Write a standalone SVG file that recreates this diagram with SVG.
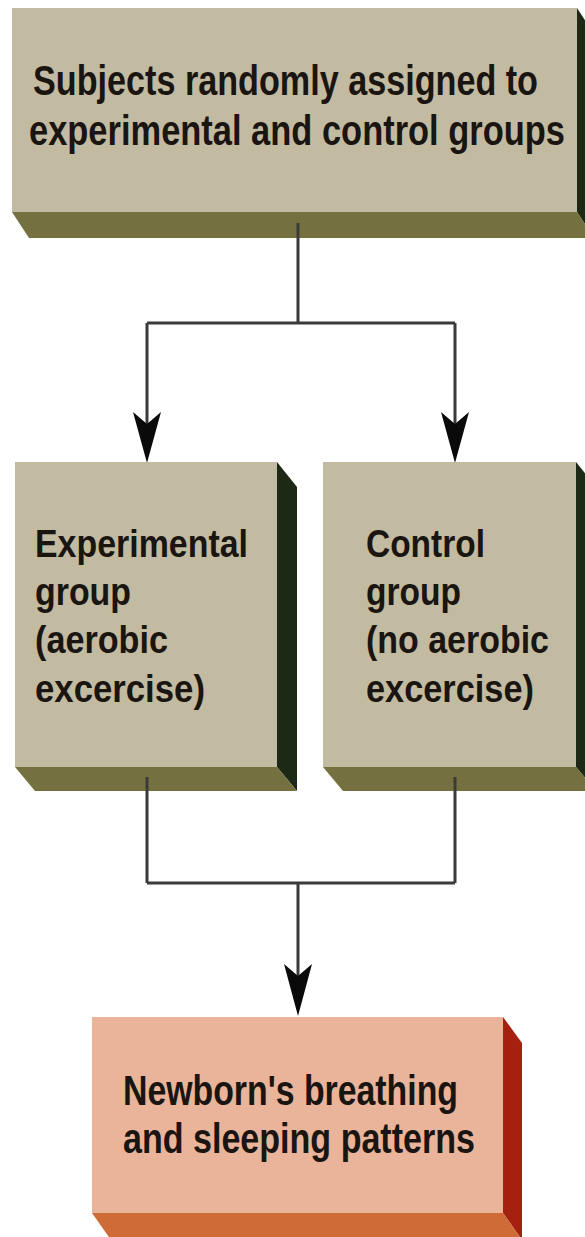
<svg xmlns="http://www.w3.org/2000/svg" width="585" height="1237" viewBox="0 0 585 1237">
<style>
.front{fill:#c2bba2}
.bottom{fill:#75703f}
.side{fill:#1d2815}
.rfront{fill:#e9b49a}
.rbottom{fill:#cf6b36}
.rside{fill:#a5210f}
.t{font-family:"Liberation Sans",Arial,sans-serif;font-weight:bold;fill:#1a1510}
.big{font-size:42px}
.top{font-size:30px}
.mid{font-size:39px}
.ln{fill:none;stroke:#3a3a3a;stroke-width:3}
.ah{fill:#0a0a0a}
</style>
<rect width="585" height="1237" fill="#ffffff"/>
<g id="connectors">
<path class="ln" d="M298,223 V323 M147,323 H455 M147,323 V426 M455,323 V426"/>
<path class="ln" d="M147,777 V883 M455,777 V883 M147,883 H455 M298,883 V978"/>
<polygon class="ah" points="147,463 133,412 147,424 161,412"/>
<polygon class="ah" points="455,463 441,412 455,424 469,412"/>
<polygon class="ah" points="298,1016 284,964 298,976 312,964"/>
</g>
<g id="node-subjects">
<polygon class="side" points="577,8 594,34 594,238 577,212"/>
<polygon class="bottom" points="12,212 577,212 594,238 29,238"/>
<rect class="front" x="12" y="8" width="565" height="204"/>
<path class="ln" d="M298,223 V238"/>
<text class="t top" transform="translate(33,95) scale(1,1.4)" x="0" y="0" textLength="505" lengthAdjust="spacingAndGlyphs">Subjects randomly assigned to</text>
<text class="t top" transform="translate(29,145) scale(1,1.4)" x="0" y="0" textLength="536" lengthAdjust="spacingAndGlyphs">experimental and control groups</text>
</g>
<g id="node-experimental">
<polygon class="side" points="277,462 297,487 297,791 277,767"/>
<polygon class="bottom" points="15,767 277,767 297,791 35,791"/>
<rect class="front" x="15" y="462" width="262" height="305"/>
<path class="ln" d="M147,777 V791"/>
<text class="t mid" x="35" y="557" textLength="213" lengthAdjust="spacingAndGlyphs">Experimental</text>
<text class="t mid" x="35" y="605" textLength="96" lengthAdjust="spacingAndGlyphs">group</text>
<text class="t mid" x="35" y="653" textLength="133" lengthAdjust="spacingAndGlyphs">(aerobic</text>
<text class="t mid" x="35" y="702" textLength="170" lengthAdjust="spacingAndGlyphs">excercise)</text>
</g>
<g id="node-control">
<polygon class="side" points="576,462 596,487 596,791 576,767"/>
<polygon class="bottom" points="323,767 576,767 596,791 343,791"/>
<rect class="front" x="323" y="462" width="253" height="305"/>
<path class="ln" d="M455,777 V791"/>
<text class="t mid" x="366" y="557" textLength="119" lengthAdjust="spacingAndGlyphs">Control</text>
<text class="t mid" x="366" y="605" textLength="95" lengthAdjust="spacingAndGlyphs">group</text>
<text class="t mid" x="366" y="653" textLength="183" lengthAdjust="spacingAndGlyphs">(no aerobic</text>
<text class="t mid" x="366" y="702" textLength="168" lengthAdjust="spacingAndGlyphs">excercise)</text>
</g>
<g id="node-newborn">
<polygon class="rside" points="503,1017 522,1043 522,1240 503,1213"/>
<polygon class="rbottom" points="92,1213 503,1213 522,1240 111,1240"/>
<rect class="rfront" x="92" y="1017" width="411" height="196"/>
<text class="t big" x="123" y="1105" textLength="335" lengthAdjust="spacingAndGlyphs">Newborn's breathing</text>
<text class="t big" x="123" y="1153" textLength="352" lengthAdjust="spacingAndGlyphs">and sleeping patterns</text>
</g>
</svg>
